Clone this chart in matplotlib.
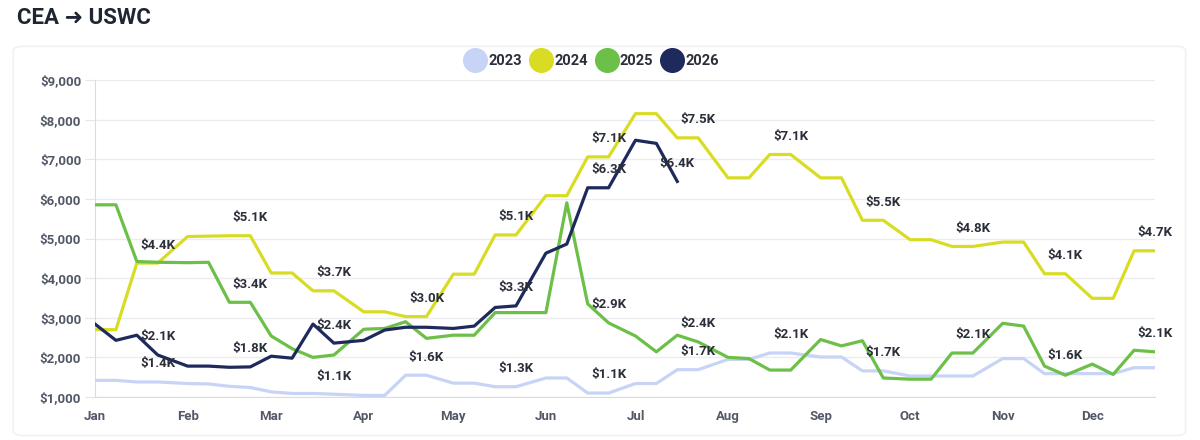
import matplotlib
matplotlib.use("Agg")
import matplotlib.pyplot as plt
import pandas as pd
from matplotlib.lines import Line2D
from matplotlib.patches import FancyBboxPatch
from matplotlib.ticker import FuncFormatter

# sample dates: 1st, 8th, 15th and 22nd of every month (common axis year)
months = ["Jan", "Feb", "Mar", "Apr", "May", "Jun", "Jul", "Aug", "Sep", "Oct", "Nov", "Dec"]
sample_days = [1, 8, 15, 22]

rates_2023 = [1420, 1420, 1380, 1380, 1340, 1330, 1270, 1240, 1130, 1090, 1090, 1070,
              1040, 1040, 1550, 1550, 1350, 1350, 1260, 1260, 1480, 1480, 1100, 1100,
              1340, 1340, 1690, 1690, 1950, 1950, 2110, 2110, 2010, 2010, 1660, 1660,
              1530, 1530, 1530, 1530, 1970, 1970, 1590, 1590, 1590, 1590, 1740, 1740]
rates_2024 = [2700, 2700, 4380, 4380, 5050, 5060, 5070, 5070, 4130, 4130, 3680, 3680,
              3150, 3150, 3030, 3030, 4100, 4100, 5090, 5090, 6080, 6080, 7060, 7060,
              8150, 8150, 7540, 7540, 6530, 6530, 7120, 7120, 6530, 6530, 5460, 5460,
              4970, 4970, 4800, 4800, 4910, 4910, 4110, 4110, 3490, 3490, 4690, 4690]
rates_2025 = [5850, 5850, 4420, 4400, 4390, 4400, 3390, 3390, 2540, 2220, 2000, 2060,
              2710, 2730, 2900, 2480, 2560, 2560, 3130, 3130, 3130, 5900, 3350, 2870,
              2540, 2140, 2560, 2390, 2000, 1970, 1680, 1680, 2450, 2290, 2420, 1480,
              1450, 1450, 2110, 2110, 2860, 2790, 1780, 1550, 1830, 1570, 2180, 2140]
rates_2026 = [2840, 2430, 2560, 2060, 1780, 1780, 1750, 1760, 2030, 1980, 2840, 2360,
              2430, 2690, 2760, 2760, 2730, 2790, 3260, 3300, 4630, 4860, 6280, 6280,
              7480, 7400, 6440]

# months (0 = Jan) whose month-end value carries a visible label
labelled_2023 = [0, 2, 3, 4, 5, 6, 7, 8, 10]
labelled_2024 = list(range(12))
labelled_2025 = [1, 5, 6, 9, 11]
labelled_2026 = [0, 1, 2, 4, 5, 6]

years = ["2023", "2024", "2025", "2026"]
colors = ["#c8d4f6", "#d8dd24", "#6cbf47", "#1e2a5c"]
series = [rates_2023, rates_2024, rates_2025, rates_2026]
labelled = [labelled_2023, labelled_2024, labelled_2025, labelled_2026]

FONT = ["Roboto", "DejaVu Sans"]
plt.rcParams["font.family"] = FONT

dates = pd.to_datetime([f"2023-{m:02d}-{d:02d}" for m in range(1, 13) for d in sample_days])

fig = plt.figure(figsize=(12, 4.4), dpi=100)
fig.patches.append(FancyBboxPatch((0.011, 0.01), 0.977, 0.885, boxstyle="round,pad=0,rounding_size=0.01",
                                  transform=fig.transFigure, facecolor="none", edgecolor="#f1f1f3",
                                  linewidth=1.2, zorder=-1))
ax = fig.add_axes([0.0792, 0.0977, 0.8833, 0.7205])
ax.patch.set_alpha(0)

for year, color, values, label_months in zip(years, colors, series, labelled):
    x = dates[:len(values)]
    ax.plot(x, values, color=color, linewidth=2.3, solid_joinstyle="round", zorder=3)
    for month in label_months:
        idx = min(month * 4 + 3, len(values) - 1)
        ax.annotate(f"${values[idx] / 1000:.1f}K", (x[idx], values[idx]), xytext=(0, 13),
                    textcoords="offset points", ha="center", va="center",
                    fontsize=9.5, fontweight="bold", color="#2b2f3a", zorder=5)

ax.set_ylim(1000, 9000)
ax.set_xlim(dates[0], dates[-1])
ax.set_yticks(range(1000, 9001, 1000))
ax.yaxis.set_major_formatter(FuncFormatter(lambda v, _: f"${v:,.0f}"))
ax.set_xticks(pd.to_datetime([f"2023-{m:02d}-01" for m in range(1, 13)]))
ax.set_xticklabels(months)
ax.grid(axis="y", color="#ececf0", linewidth=1)
ax.set_axisbelow(True)
for side in ["top", "right"]:
    ax.spines[side].set_visible(False)
for side in ["left", "bottom"]:
    ax.spines[side].set_color("#dcdce0")
ax.tick_params(axis="y", length=7, color="#e6e6ea", labelsize=9.5, labelcolor="#525866", pad=3)
ax.tick_params(axis="x", length=0, labelsize=9.5, labelcolor="#525866", pad=9)
for lbl in ax.get_xticklabels() + ax.get_yticklabels():
    lbl.set_fontweight("bold")

handles = [Line2D([], [], linestyle="none", marker="o", markersize=17,
                  markerfacecolor=c, markeredgecolor=c) for c in colors]
fig.legend(handles, years, loc="center", bbox_to_anchor=(0.494, 0.862), ncol=4, frameon=False,
           handletextpad=0.3, columnspacing=0.7, handlelength=1.2,
           prop={"family": FONT, "weight": "bold", "size": 10.5})
for txt in fig.legends[0].get_texts():
    txt.set_color("#2b2f3a")

fig.text(0.014, 0.958, "CEA ➜ USWC", fontsize=16, fontweight="bold", color="#1f2533",
         ha="left", va="center", family=FONT)

fig.savefig("out.png", dpi=100, facecolor="white")
